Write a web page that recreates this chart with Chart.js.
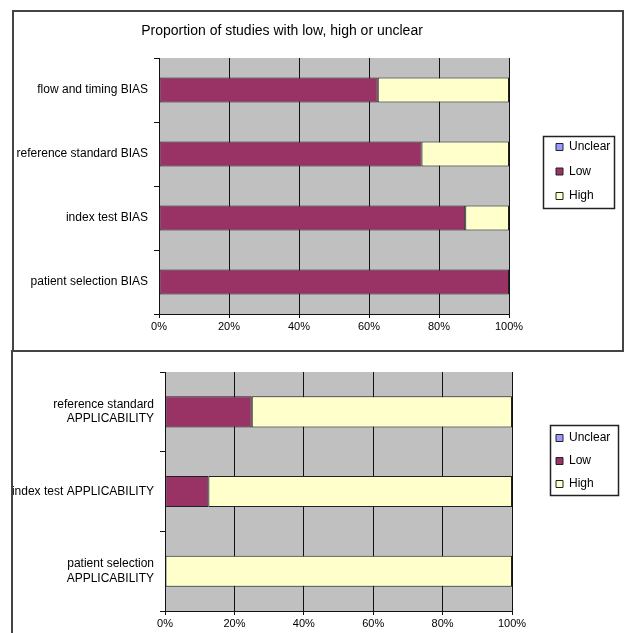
<!DOCTYPE html>
<html>
<head>
  <title>Risk of bias and applicability</title>
  <script src="https://cdn.jsdelivr.net/npm/chart.js"></script>
  <style>
    body {
      margin: 0;
      background: #fff;
      font-family: "Liberation Sans", Arial, sans-serif;
    }
    .panel { position: absolute; left: 0; width: 626px; }
    #biasWrap { top: 0; height: 352px; }
    #applWrap { top: 352px; height: 281px; }
    .frame {
      position: absolute;
      left: 12px; top: 10px;
      width: 612px; height: 342px;
      box-sizing: border-box;
      border: 2px solid #444;
      pointer-events: none;
    }
    .edge {
      position: absolute;
      left: 11px; top: 350px;
      width: 2px; height: 283px;
      background: #444;
      pointer-events: none;
    }
  </style>
</head>
<body>
  <div class="panel" id="biasWrap"><canvas id="biasChart"></canvas></div>
  <div class="panel" id="applWrap"><canvas id="applChart"></canvas></div>
  <div class="frame"></div>
  <div class="edge"></div>

  <script>
    // data (percent of studies)
    const seriesNames = ['Unclear', 'Low', 'High'];
    const xTicks = [0, 20, 40, 60, 80, 100];

    const biasLabels = ['flow and timing BIAS', 'reference standard BIAS', 'index test BIAS', 'patient selection BIAS'];
    const biasUnclear = [0, 0, 0, 0];
    const biasLow = [62.5, 75, 87.5, 100];
    const biasHigh = [37.5, 25, 12.5, 0];

    const applLabels = [['reference standard', 'APPLICABILITY'], 'index test APPLICABILITY', ['patient selection', 'APPLICABILITY']];
    const applUnclear = [0, 0, 0];
    const applLow = [25, 12.5, 0];
    const applHigh = [75, 87.5, 100];

    const colors = ['#9999ff', '#993366', '#ffffcc'];
    const FONT = '"Liberation Sans", Arial, sans-serif';

    // grey plot background, legend frame, and moving title/legend boxes
    const excelLook = {
      id: 'excelLook',
      afterLayout(chart, args, opts) {
        const t = chart.titleBlock;
        if (t && opts.titleX != null) {
          const d = opts.titleX - (t.left + t.right) / 2;
          t.left += d; t.right += d;
        }
        const lg = chart.legend;
        const p = chart.options.plugins.legend.labels.padding;
        const w = lg.width, h = lg.height;
        lg.left = opts.legendX - p; lg.right = lg.left + w;
        lg.top = opts.legendY - p; lg.bottom = lg.top + h;
      },
      beforeDraw(chart) {
        const a = chart.chartArea, ctx = chart.ctx;
        ctx.save();
        ctx.fillStyle = '#c0c0c0';
        ctx.fillRect(a.left, a.top, a.right - a.left, a.bottom - a.top);
        ctx.restore();
      },
      afterDraw(chart, args, opts) {
        const hb = chart.legend.legendHitBoxes;
        if (!hb || !hb.length) return;
        const m = opts.frame;
        const l = Math.min(...hb.map(b => b.left)) - m.l;
        const r = Math.max(...hb.map(b => b.left + b.width)) + m.r;
        const t = Math.min(...hb.map(b => b.top)) - m.t;
        const b = Math.max(...hb.map(b => b.top + b.height)) + m.b;
        const ctx = chart.ctx;
        ctx.save();
        ctx.strokeStyle = '#222';
        ctx.lineWidth = 1.5;
        ctx.strokeRect(Math.round(l) + 0.5, Math.round(t) + 0.5, Math.round(r - l), Math.round(b - t));
        ctx.restore();
      }
    };

    function makeChart(id, labels, unclear, low, high, cfg) {
      const values = [unclear, low, high];
      return new Chart(document.getElementById(id), {
        type: 'bar',
        data: {
          labels: labels,
          datasets: seriesNames.map((name, i) => ({
            label: name,
            data: values[i],
            backgroundColor: colors[i],
            borderColor: '#222',
            borderWidth: 1,
            borderSkipped: false,
            categoryPercentage: 1,
            barPercentage: 0.39
          }))
        },
        options: {
          indexAxis: 'y',
          responsive: true,
          maintainAspectRatio: false,
          animation: false,
          layout: { padding: cfg.padding },
          scales: {
            x: {
              stacked: true,
              min: 0, max: 100,
              afterBuildTicks: s => { s.ticks = xTicks.map(v => ({ value: v })); },
              afterFit: s => { s.height = 20; },
              grid: { color: '#111', lineWidth: 1, tickLength: 4, tickColor: '#111' },
              border: { color: '#111', width: 1 },
              ticks: {
                color: '#000', padding: 2, maxRotation: 0,
                font: { family: FONT, size: 11 },
                callback: v => v + '%'
              }
            },
            y: {
              stacked: true,
              afterFit: s => { s.width = cfg.yWidth; },
              grid: { drawOnChartArea: false, offset: true, tickLength: 5, tickColor: '#111' },
              border: { color: '#111', width: 1 },
              ticks: {
                color: '#000', padding: 6,
                font: { family: FONT, size: 12, lineHeight: 1.17 }
              }
            }
          },
          plugins: {
            title: {
              display: !!cfg.title,
              text: cfg.title,
              color: '#000',
              font: { family: FONT, size: 14, weight: 'normal' },
              padding: { top: 13, bottom: 18.2 }
            },
            legend: {
              position: 'chartArea',
              align: 'start',
              labels: {
                color: '#000',
                boxWidth: 7, boxHeight: 7,
                padding: cfg.legendPad,
                font: { family: FONT, size: 12 }
              }
            },
            tooltip: { enabled: false },
            excelLook: {
              titleX: cfg.titleX,
              legendX: cfg.legendX,
              legendY: cfg.legendY,
              frame: cfg.frame
            }
          }
        },
        plugins: [excelLook]
      });
    }

    makeChart('biasChart', biasLabels, biasUnclear, biasLow, biasHigh, {
      title: 'Proportion of studies with low, high or unclear',
      titleX: 282,
      padding: { left: 0, right: 117, top: 10, bottom: 18 },
      yWidth: 159,
      legendPad: 12.5,
      legendX: 556, legendY: 141,
      frame: { l: 13, r: 4, t: 5, b: 6 }
    });

    makeChart('applChart', applLabels, applUnclear, applLow, applHigh, {
      title: '',
      titleX: null,
      padding: { left: 0, right: 114, top: 16, bottom: 2 },
      yWidth: 165,
      legendPad: 11,
      legendX: 556, legendY: 80,
      frame: { l: 6, r: 8, t: 7, b: 5 }
    });
  </script>
</body>
</html>
